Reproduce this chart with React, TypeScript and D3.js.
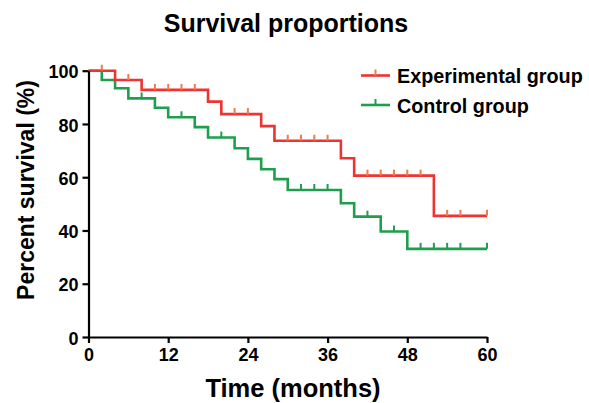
import React, { useEffect, useRef } from 'react';
import * as d3 from 'd3';

// Kaplan-Meier steps (months, percent survival)
const expEventMonths = [4, 8, 18, 20, 26, 28, 38, 40, 52];
const expSurvival = [96.5, 92.8, 88.4, 83.7, 79.2, 73.7, 67.1, 60.6, 45.5];
const expCensorMonths = [2, 6, 10, 12, 14, 16, 22, 24, 30, 32, 34, 36, 42, 44, 46, 48, 50, 54, 56, 60];

const ctrlEventMonths = [2, 4, 6, 10, 12, 16, 18, 22, 24, 26, 28, 30, 38, 40, 44, 48];
const ctrlSurvival = [96.5, 93.4, 89.6, 86.1, 82.5, 78.8, 74.9, 70.9, 66.9, 63.0, 59.3, 55.2, 50.2, 45.2, 39.6, 33.1];
const ctrlCensorMonths = [8, 14, 20, 32, 34, 36, 42, 46, 50, 52, 54, 56, 60];

const xTicks = [0, 12, 24, 36, 48, 60];
const yTicks = [0, 20, 40, 60, 80, 100];
const seriesNames = ['Experimental group', 'Control group'];

const FONT = '"Liberation Sans", Arial, sans-serif';

function buildSteps(months: number[], surv: number[]) {
  const pts: [number, number][] = [[0, 100]];
  months.forEach((m, i) => pts.push([m, surv[i]]));
  pts.push([60, surv[surv.length - 1]]);
  return pts;
}

// survival value at month t (step function, right-continuous)
function valueAt(months: number[], surv: number[], t: number) {
  let v = 100;
  months.forEach((m, i) => {
    if (m <= t) v = surv[i];
  });
  return v;
}

export default function App() {
  const ref = useRef<SVGSVGElement>(null);

  useEffect(() => {
    const svg = d3.select(ref.current);
    svg.selectAll('*').remove();

    const x = d3.scaleLinear().domain([0, 60]).range([88.5, 487]);
    const y = d3.scaleLinear().domain([0, 100]).range([337, 70.7]);

    const series = [
      {
        name: seriesNames[0],
        color: '#ee3333',
        tick: '#f07a4a',
        pts: buildSteps(expEventMonths, expSurvival),
        censor: expCensorMonths.map(m => [m, valueAt(expEventMonths, expSurvival, m)]),
      },
      {
        name: seriesNames[1],
        color: '#1f9e4e',
        tick: '#1f9e4e',
        pts: buildSteps(ctrlEventMonths, ctrlSurvival),
        censor: ctrlCensorMonths.map(m => [m, valueAt(ctrlEventMonths, ctrlSurvival, m)]),
      },
    ];

    const line = d3
      .line<[number, number]>()
      .x(d => x(d[0]))
      .y(d => y(d[1]))
      .curve(d3.curveStepAfter);

    // draw control first so the experimental curve sits on top
    [...series].reverse().forEach(s => {
      svg
        .append('path')
        .attr('d', line(s.pts))
        .attr('fill', 'none')
        .attr('stroke', s.color)
        .attr('stroke-width', 2.6);

      svg
        .append('g')
        .selectAll('line')
        .data(s.censor)
        .enter()
        .append('line')
        .attr('x1', d => x(d[0]))
        .attr('x2', d => x(d[0]))
        .attr('y1', d => y(d[1]))
        .attr('y2', d => y(d[1]) - 6)
        .attr('stroke', s.tick)
        .attr('stroke-width', 2);
    });

    // axes
    const xAxis = svg
      .append('g')
      .attr('transform', `translate(0,${y(0)})`)
      .call(d3.axisBottom(x).tickValues(xTicks).tickSize(6).tickSizeOuter(0).tickPadding(4));
    const yAxis = svg
      .append('g')
      .attr('transform', `translate(${x(0)},0)`)
      .call(d3.axisLeft(y).tickValues(yTicks).tickSize(6).tickSizeOuter(0).tickPadding(4));

    [xAxis, yAxis].forEach(g => {
      g.selectAll('path, line').attr('stroke', '#000').attr('stroke-width', 2.2);
      g.selectAll('text')
        .attr('font-family', FONT)
        .attr('font-weight', 'bold')
        .attr('font-size', 18)
        .attr('fill', '#000');
    });
    xAxis.selectAll('text').attr('dy', '0.78em');
    yAxis.selectAll('text').attr('dy', '0.4em');

    // legend
    series.forEach((s, i) => {
      const ly = 75.5 + i * 29.5;
      svg
        .append('line')
        .attr('x1', 361)
        .attr('x2', 390)
        .attr('y1', ly)
        .attr('y2', ly)
        .attr('stroke', s.color)
        .attr('stroke-width', 2.6);
      svg
        .append('line')
        .attr('x1', 375.5)
        .attr('x2', 375.5)
        .attr('y1', ly)
        .attr('y2', ly - 6)
        .attr('stroke', s.tick)
        .attr('stroke-width', 2);
      svg
        .append('text')
        .attr('x', 397)
        .attr('y', ly + 7.5)
        .attr('font-family', FONT)
        .attr('font-weight', 'bold')
        .attr('font-size', 19.8)
        .text(s.name);
    });

    // titles
    svg
      .append('text')
      .attr('x', 286)
      .attr('y', 32)
      .attr('text-anchor', 'middle')
      .attr('font-family', FONT)
      .attr('font-weight', 'bold')
      .attr('font-size', 25)
      .text('Survival proportions');

    svg
      .append('text')
      .attr('x', 293)
      .attr('y', 397)
      .attr('text-anchor', 'middle')
      .attr('font-family', FONT)
      .attr('font-weight', 'bold')
      .attr('font-size', 25.5)
      .text('Time (months)');

    svg
      .append('text')
      .attr('transform', 'translate(34,190) rotate(-90)')
      .attr('text-anchor', 'middle')
      .attr('font-family', FONT)
      .attr('font-weight', 'bold')
      .attr('font-size', 23)
      .text('Percent survival (%)');
  }, []);

  return (
    <svg
      ref={ref}
      width={589}
      height={403}
      style={{ position: 'absolute', left: 0, top: 0, background: '#fff' }}
    />
  );
}
